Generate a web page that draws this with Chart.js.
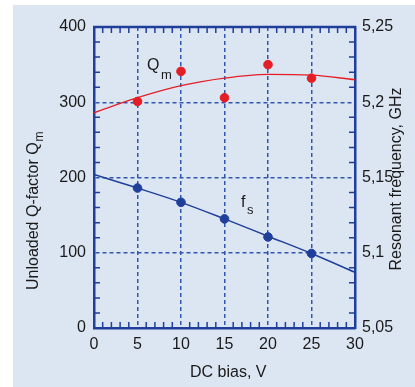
<!DOCTYPE html>
<html>
<head>
<meta charset="utf-8">
<script src="https://cdn.jsdelivr.net/npm/chart.js@4.4.1/dist/chart.umd.min.js"></script>
<style>
  html, body { margin: 0; padding: 0; background: #fff; }
  #wrap { width: 415px; height: 387px; }
</style>
</head>
<body>
<div id="wrap"><canvas id="qChart" width="415" height="387"></canvas></div>
<script>
// DC bias, V
const biasPoints = [5, 10, 15, 20, 25];
const biasFit = [0, 5, 10, 15, 20, 25, 30];

// unloaded Q-factor: measured points and fitted curve
const qMeasured = [301, 341, 306, 350, 332];
const qFit = [286, 306, 322, 332, 337, 336, 330];

// resonant frequency, GHz
const fMeasured = [5.143, 5.1335, 5.1225, 5.1105, 5.0995];
const fFit = [5.152, 5.143, 5.1335, 5.1225, 5.111, 5.0995, 5.087];

const xTicks = [0, 5, 10, 15, 20, 25, 30];
const qTicks = [0, 100, 200, 300, 400];
const fTicks = [5.05, 5.1, 5.15, 5.2, 5.25];

const BLUE = "#1f3f9b";
const GRID = "#3156ae";
const RED = "#e31e26";
const BG = "#dce6f2";
const TEXT = "#1a1a1a";
const FONT = "'Liberation Sans', Arial, sans-serif";

const toXY = (xs, ys) => xs.map((x, i) => ({ x: x, y: ys[i] }));
const hideEdges = (lo, hi) => c => (c.tick && (c.tick.value === lo || c.tick.value === hi)) ? "rgba(0,0,0,0)" : GRID;

// light blue panel behind everything
const panelBg = {
    id: "panelBg",
    beforeDraw(chart) {
        const ctx = chart.ctx;
        ctx.save();
        ctx.fillStyle = "#fff";
        ctx.fillRect(0, 0, chart.width, chart.height);
        ctx.fillStyle = BG;
        ctx.fillRect(13, 5, chart.width - 13, chart.height - 5);
        ctx.restore();
    }
};

// small inward ticks on all four sides + top frame line
const minorTicks = {
    id: "minorTicks",
    beforeDatasetsDraw(chart) {
        const { ctx, chartArea: a, scales } = chart;
        ctx.save();
        ctx.strokeStyle = BLUE;
        ctx.lineWidth = 1.5;
        ctx.beginPath();
        for (let v = 1; v < 30; v++) {
            if (v % 5 === 0) continue;
            const px = scales.x.getPixelForValue(v);
            ctx.moveTo(px, a.bottom); ctx.lineTo(px, a.bottom - 6);
            ctx.moveTo(px, a.top); ctx.lineTo(px, a.top + 6);
        }
        for (let v = 20; v < 400; v += 20) {
            if (v % 100 === 0) continue;
            const py = scales.y.getPixelForValue(v);
            ctx.moveTo(a.left, py); ctx.lineTo(a.left + 6, py);
        }
        for (let k = 1; k < 20; k++) {
            if (k % 5 === 0) continue;
            const py = scales.y2.getPixelForValue(5.05 + k * 0.01);
            ctx.moveTo(a.right, py); ctx.lineTo(a.right - 6, py);
        }
        ctx.stroke();
        ctx.lineWidth = 2.5;
        ctx.beginPath();
        ctx.moveTo(a.left - 1, a.top); ctx.lineTo(a.right + 1, a.top);
        ctx.stroke();
        ctx.restore();
    }
};

// axis titles and series labels (with subscripts)
const labels = {
    id: "labels",
    afterDraw(chart) {
        const ctx = chart.ctx;
        ctx.save();
        ctx.fillStyle = TEXT;
        ctx.textBaseline = "alphabetic";

        // series labels
        ctx.textAlign = "left";
        ctx.font = "16px " + FONT;
        ctx.fillText("Q", 147, 70);
        ctx.fillText("f", 241, 207);
        ctx.font = "13px " + FONT;
        ctx.fillText("m", 161, 79);
        ctx.fillText("s", 247, 214);

        // x title
        ctx.font = "16px " + FONT;
        ctx.fillText("DC bias, V", 190, 377);

        // left title
        ctx.save();
        ctx.translate(38, 290);
        ctx.rotate(-Math.PI / 2);
        ctx.font = "16px " + FONT;
        const t = "Unloaded Q-factor Q";
        ctx.fillText(t, 0, 0);
        const w = ctx.measureText(t).width;
        ctx.font = "12px " + FONT;
        ctx.fillText("m", w + 1, 5);
        ctx.restore();

        // right title
        ctx.save();
        ctx.translate(401, 179);
        ctx.rotate(-Math.PI / 2);
        ctx.textAlign = "center";
        ctx.font = "16px " + FONT;
        ctx.fillText("Resonant frequency, GHz", 0, 0);
        ctx.restore();

        ctx.restore();
    }
};

document.addEventListener("DOMContentLoaded", function () {
    const ctx = document.getElementById("qChart").getContext("2d");
    const tickFont = { family: FONT, size: 16 };

    new Chart(ctx, {
        type: "line",
        data: {
            datasets: [
                {
                    data: toXY(biasFit, qFit),
                    yAxisID: "y",
                    borderColor: RED,
                    borderWidth: 1.3,
                    pointRadius: 0,
                    cubicInterpolationMode: "monotone"
                },
                {
                    type: "scatter",
                    data: toXY(biasPoints, qMeasured),
                    yAxisID: "y",
                    backgroundColor: RED,
                    borderColor: RED,
                    pointRadius: 4.3,
                    showLine: false
                },
                {
                    data: toXY(biasFit, fFit),
                    yAxisID: "y2",
                    borderColor: BLUE,
                    borderWidth: 1.5,
                    pointRadius: 0,
                    cubicInterpolationMode: "monotone"
                },
                {
                    type: "scatter",
                    data: toXY(biasPoints, fMeasured),
                    yAxisID: "y2",
                    backgroundColor: BLUE,
                    borderColor: BLUE,
                    pointRadius: 4.3,
                    showLine: false
                }
            ]
        },
        options: {
            responsive: false,
            animation: false,
            layout: { padding: { top: 27, left: 0, right: 0, bottom: 0 } },
            plugins: {
                legend: { display: false },
                tooltip: { enabled: false }
            },
            scales: {
                x: {
                    type: "linear",
                    min: 0,
                    max: 30,
                    afterBuildTicks: s => { s.ticks = xTicks.map(v => ({ value: v })); },
                    afterFit: s => { s.height = 59; },
                    ticks: { font: tickFont, color: TEXT, padding: 7, maxRotation: 0 },
                    grid: { color: hideEdges(0, 30), lineWidth: 1.5, drawTicks: false },
                    border: { color: BLUE, width: 2.5, dash: [4, 3] }
                },
                y: {
                    position: "left",
                    min: 0,
                    max: 400,
                    afterBuildTicks: s => { s.ticks = qTicks.map(v => ({ value: v })); },
                    afterFit: s => { s.width = 94; },
                    ticks: { font: tickFont, color: TEXT, padding: 8 },
                    grid: { color: hideEdges(0, 400), lineWidth: 1.5, drawTicks: false },
                    border: { color: BLUE, width: 2.5, dash: [4, 3] }
                },
                y2: {
                    position: "right",
                    min: 5.05,
                    max: 5.25,
                    afterBuildTicks: s => { s.ticks = fTicks.map(v => ({ value: v })); },
                    afterFit: s => { s.width = 60; },
                    ticks: {
                        font: tickFont,
                        color: TEXT,
                        padding: 7,
                        callback: v => String(v).replace(".", ",")
                    },
                    grid: { drawOnChartArea: false, drawTicks: false },
                    border: { color: BLUE, width: 2.5 }
                }
            }
        },
        plugins: [panelBg, minorTicks, labels]
    });
});
</script>
</body>
</html>
